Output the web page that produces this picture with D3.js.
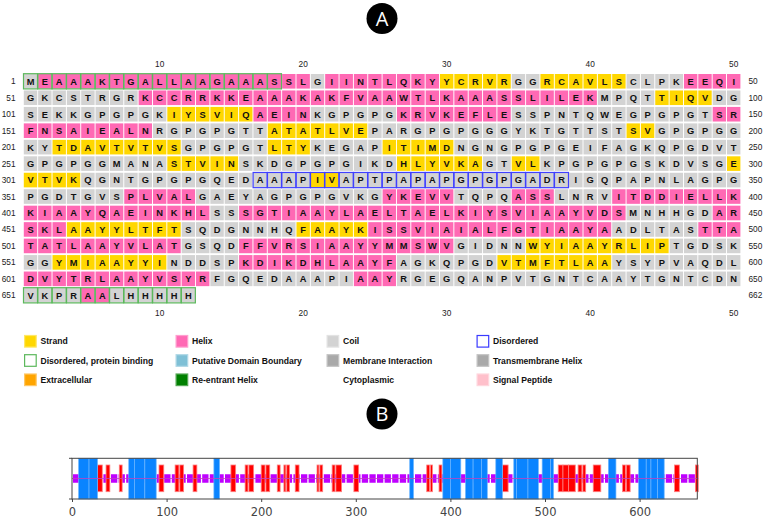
<!DOCTYPE html>
<html><head><meta charset="utf-8">
<script src="https://cdn.jsdelivr.net/npm/d3@7/dist/d3.min.js"></script>
<style>body{margin:0;background:#fff}svg{display:block}</style>
</head><body>
<svg id="c" width="765" height="531"></svg>
<script>
// ---------------- DATA ----------------
const seqRows = [
  "MEAAAKTGAL LAAGAAASSL GIINTLQKYY CRVRGGRCAV LSCLPKEEQI",
  "GKCSTRGRKC CRRKKEAAAK AKFVAAWTLK AAASSLILEK MPQTTIQVDG",
  "SEKKGPGPGK IYSVIQAEIN KGPGPGKRVK EFLESSPNTQ WEGPGPGTSR",
  "FNSAIEALNR GPGPGTTATA TLVEPARGPG PGGGYKTGTT STSVGPGPGG",
  "KYTDAVTVTV SGPGPGTLTY KEGAPITIMD NGNGPGPGEI FAGKQPGDVT",
  "GPGPGGMANA STVINSKDGP GPGIKDHLYV KAGTVLKPGP GPGSKDVSGE",
  "VTVKQGNTGP GPGQEDAAAP IVAPTPAPAP GPGPGADRIG QPAPNLAGPG",
  "PGDTGVSPLV ALGAEYAGPG PGVKGYKEVV TQPQASSLNR VITDDIELLK",
  "KIAAYQAEIN KHLSSSGTIA AYLAELTAEL KIYSVIAAYV DSMNHHGDAR",
  "SKLAAYYLTF TSQDGNNHQF AAYKISSVIA IALFGTIAAY AADLTASTTA",
  "TATLAAYVLA TGSQDFFVRS IAAYYMMSWV GIDNNWYIAA YRLIPTGDSK",
  "GGYMIAAYYI NDDSPKDIKD HLAAYFAGKQ PGDVTMFTLA AYSYPVAQDL",
  "DVYTRLAAYV SYRFGQEDAA APIAAYRGEG QANPVTGNTC AAYTGNTCDN",
  "VKPRAALHHH HH"
];
// secondary structure per residue: H = helix, E = strand, C = coil
const ssRows = [
  "CHHHHHHHHH HHHHHHHHHH CHHHHHHHHE EEEECCEEEE EECCCCHHHH",
  "CCCCCCCCHH HHHHHHHHHH HHHHHHHHHH HHHHHHHHHH CCCCEEEECC",
  "CCCCCCCCCC EEEEEEHHHH CCCCCCHHHH HHHHCCCCCC CCCCCCCCHH",
  "HHHHHHHHHC CCCCCCCEEE EEEECCCCCC CCCCCCCCCC CCEECCCCCC",
  "CCEEEEEEEE ECCCCCCEEE CCCCCEEEEE CCCCCCCCCC CCCCCCCCCC",
  "CCCCCCCCCC EEEEECCCCC CCCCCCEEEE EECCEECCCC CCCCCCCCCE",
  "EEEECCCCCC CCCCCCCCCC EECCCCCCCC CCCCCCCCCC CCCCCCCCCC",
  "CCCCCCCHHH HHCCCCCCCC CCCCCHHHHH CCCCHHHCCC CHHHHHHHHH",
  "HHHHHHHHHH HHHCCHHHHH HHHHHHHHHH HHHHHHHHHH HHCCCCCCHH",
  "HHHEEEEEEE ECCCCCCCCE EEEEHHHHHH HHHHHHHHHH HCCCCCCHHH",
  "HHHHHHHHHH HCCCCHHHHH HHHHHHHHHH CCCCCEEEEE EEEEECCCCC",
  "CCEEEEEEEE CCCCCHHHHH HHHHHHCCCC CCCEEEEEEE ECCCCCCCCC",
  "HHHHHHHHHH HHHCCCCCCC CCCHHHCCCC CCCCCCCCCC CCCCCCCCCC",
  "CCCCHHCCCC CC"
];
const rowStartLabels = [1,51,101,151,201,251,301,351,401,451,501,551,601,651];
const rowEndLabels = [50,100,150,200,250,300,350,400,450,500,550,600,650,662];
const colTickLabels = [10,20,30,40,50];
const bindingRegions = [[1,18],[651,662]];     // Disordered, protein binding
const disorderedRegions = [[317,338]];         // Disordered

const legendCol1 = ["Strand","Disordered, protein binding","Extracellular"];
const legendCol2 = ["Helix","Putative Domain Boundary","Re-entrant Helix"];
const legendCol3 = ["Coil","Membrane Interaction","Cytoplasmic"];
const legendCol4 = ["Disordered","Transmembrane Helix","Signal Peptide"];

// Panel B: residue ranges
const blueRanges = [[7,18],[18,27],[60,66],[66,77],[77,89],[150,156],[357,361],
  [392,400],[400,411],[416,424],[424,433],[433,439],[448,455],[467,470],[470,482],
  [482,493],[497,506],[506,509],[567,575],[599,607],[607,612],[612,619],[619,626]];
const redRanges = [[27,32],[36,40],[50,53],[92,97],[109,113],[114,118],[128,132],
  [168,173],[183,186],[187,192],[200,204],[205,209],[217,220],[224,226],[227,230],
  [236,240],[259,261],[262,265],[275,278],[279,285],[298,303],[375,378],[379,381],
  [388,391],[455,461],[514,519],[519,525],[525,532],[535,539],[540,543],[551,559],
  [582,585],[586,590],[637,642],[659,662]];
const axisTicksB = [0,100,200,300,400,500,600];
const seqLength = 662;

// ---------------- STYLE ----------------
const ssColor = {H:"#ff69b4", E:"#ffd700", C:"#d3d3d3"};
const legendStyle = {
  "Strand":{fill:"#ffd700",stroke:"#ffe766"},
  "Disordered, protein binding":{fill:"#fff",stroke:"#5cb85c"},
  "Extracellular":{fill:"#ffa500",stroke:"#ffc766"},
  "Helix":{fill:"#ff69b4",stroke:"#ff9fcf"},
  "Putative Domain Boundary":{fill:"#7fc0d6",stroke:"#b0d8e6"},
  "Re-entrant Helix":{fill:"#008000",stroke:"#55a855"},
  "Coil":{fill:"#d3d3d3",stroke:"#e3e3e3"},
  "Membrane Interaction":{fill:"#a9a9a9",stroke:"#c4c4c4"},
  "Cytoplasmic":null,
  "Disordered":{fill:"#fff",stroke:"#3a3aff"},
  "Transmembrane Helix":{fill:"#a9a9a9",stroke:"#c4c4c4"},
  "Signal Peptide":{fill:"#ffc0cb",stroke:"#ffd6dd"}
};
const FONT = "'Liberation Sans', Arial, sans-serif";

const svg = d3.select("#c");

// residues
const seq = seqRows.map(s=>s.replace(/ /g,"")).join("");
const ss = ssRows.map(s=>s.replace(/ /g,"")).join("");
const residues = Array.from(seq, (aa,i)=>({
  n:i+1, aa, ss:ss[i], row:Math.floor(i/50), col:(i%50)+1
}));

const x = d3.scaleLinear().domain([1,50]).range([30.5,733.7]);
const y = d3.scaleLinear().domain([0,13]).range([81.3,295.3]);
const cw = 13.4, ch = 14.6;

// Panel labels (circles)
function badge(cx, cy, t){
  svg.append("circle").attr("cx",cx).attr("cy",cy).attr("r",15.5).attr("fill","#000");
  svg.append("text").attr("x",cx).attr("y",cy+7).attr("text-anchor","middle")
    .attr("font-family","'Open Sans', 'Liberation Sans', sans-serif").attr("font-size",20)
    .attr("fill","#fff").text(t);
}
badge(382,18.5,"A");
badge(382,414,"B");

// column tick labels (top & bottom)
const gTicks = svg.append("g").attr("font-family",FONT).attr("font-size",8.3).attr("fill","#222").attr("text-anchor","middle");
gTicks.selectAll(".tt").data(colTickLabels).join("text")
  .attr("x",d=>x(d)).attr("y",66.5).text(d=>d);
gTicks.selectAll(".tb").data(colTickLabels).join("text")
  .attr("x",d=>x(d)).attr("y",315.8).text(d=>d);

// row labels
const gRows = svg.append("g").attr("font-family",FONT).attr("font-size",8.3).attr("fill","#222");
gRows.selectAll(".rl").data(rowStartLabels).join("text")
  .attr("x",15.5).attr("y",(d,i)=>y(i)+3).attr("text-anchor","end").text(d=>d);
gRows.selectAll(".rr").data(rowEndLabels).join("text")
  .attr("x",748.5).attr("y",(d,i)=>y(i)+3).attr("text-anchor","start").text(d=>d);

// cells
const inRegion = (n, regs) => regs.some(([a,b])=>n>=a && n<=b);
const gCells = svg.append("g");
gCells.selectAll("rect").data(residues).join("rect")
  .attr("x",d=>x(d.col)-cw/2).attr("y",d=>y(d.row)-ch/2)
  .attr("width",cw).attr("height",ch)
  .attr("fill",d=>ssColor[d.ss]);
// region outlines
gCells.selectAll(".bind").data(residues.filter(d=>inRegion(d.n,bindingRegions))).join("rect")
  .attr("class","bind")
  .attr("x",d=>x(d.col)-cw/2-0.3).attr("y",d=>y(d.row)-ch/2-0.3)
  .attr("width",cw+0.6).attr("height",ch+0.6)
  .attr("fill","none").attr("stroke","#5cb85c").attr("stroke-width",1.2);
gCells.selectAll(".dis").data(residues.filter(d=>inRegion(d.n,disorderedRegions))).join("rect")
  .attr("class","dis")
  .attr("x",d=>x(d.col)-cw/2-0.3).attr("y",d=>y(d.row)-ch/2-0.3)
  .attr("width",cw+0.6).attr("height",ch+0.6)
  .attr("fill","none").attr("stroke","#4040ff").attr("stroke-width",1.2);
// letters
gCells.selectAll("text").data(residues).join("text")
  .attr("x",d=>x(d.col)).attr("y",d=>y(d.row)+3.4)
  .attr("text-anchor","middle").attr("font-family",FONT).attr("font-weight","bold")
  .attr("font-size",9.3).attr("fill","#111").text(d=>d.aa);

// legend
const legendCols = [legendCol1,legendCol2,legendCol3,legendCol4];
const legX = [24, 175.5, 326.5, 476.5];
const legY = [341.3, 360.5, 379.8];
const gLeg = svg.append("g");
legendCols.forEach((col,ci)=>{
  col.forEach((name,ri)=>{
    const st = legendStyle[name];
    if(st){
      gLeg.append("rect").attr("x",legX[ci]+0.6).attr("y",legY[ri]-5.8)
        .attr("width",11.6).attr("height",11.6)
        .attr("fill",st.fill).attr("stroke",st.stroke).attr("stroke-width",1.2);
    }
    gLeg.append("text").attr("x",legX[ci]+16.5).attr("y",legY[ri]+3)
      .attr("font-family",FONT).attr("font-weight","bold").attr("font-size",8.6)
      .attr("fill","#111").text(name);
  });
});

// ---------------- PANEL B ----------------
const bx = d3.scaleLinear().domain([0,661]).range([72,697.3]);
const bTop = 458.3, bBot = 499, bMid = 478.5;
const gB = svg.append("g");
// purple baseline (dashed band)
gB.append("line").attr("x1",bx(0)+1).attr("x2",bx(seqLength)-1)
  .attr("y1",bMid).attr("y2",bMid)
  .attr("stroke","#bf00ff").attr("stroke-width",8.4).attr("stroke-dasharray","6.3,1.3");
// red bars
gB.selectAll(".red").data(redRanges).join("rect").attr("class","red")
  .attr("x",d=>bx(d[0])).attr("width",d=>Math.max(1.5,bx(d[1])-bx(d[0])))
  .attr("y",465).attr("height",26.7)
  .attr("fill","#ff0000").attr("stroke","#ff8080").attr("stroke-width",0.8);
// blue bars
gB.selectAll(".blue").data(blueRanges).join("rect").attr("class","blue")
  .attr("x",d=>bx(d[0])).attr("width",d=>bx(d[1])-bx(d[0]))
  .attr("y",bTop).attr("height",bBot-bTop)
  .attr("fill","#0a84ff").attr("stroke","#6cb6ff").attr("stroke-width",0.7);
// thin center line
gB.append("line").attr("x1",bx(0)).attr("x2",bx(seqLength))
  .attr("y1",bMid).attr("y2",bMid).attr("stroke","#c040c0").attr("stroke-width",0.8);
// frame
gB.append("rect").attr("x",bx(0)).attr("y",bTop).attr("width",bx(661)-bx(0)).attr("height",bBot-bTop)
  .attr("fill","none").attr("stroke","#444").attr("stroke-width",1);
// left ticks
[bTop,bBot].forEach(v=>gB.append("line").attr("x1",bx(0)-3).attr("x2",bx(0)).attr("y1",v).attr("y2",v).attr("stroke","#444"));
// axis
const axB = gB.append("g").attr("transform",`translate(0,${bBot})`)
  .call(d3.axisBottom(bx).tickValues(axisTicksB).tickSize(3).tickPadding(6));
axB.select(".domain").remove();
axB.selectAll("line").attr("stroke","#444");
axB.selectAll("text").attr("font-family","'DejaVu Sans', sans-serif").attr("font-size",11.5).attr("fill","#444");
</script>
</body></html>
